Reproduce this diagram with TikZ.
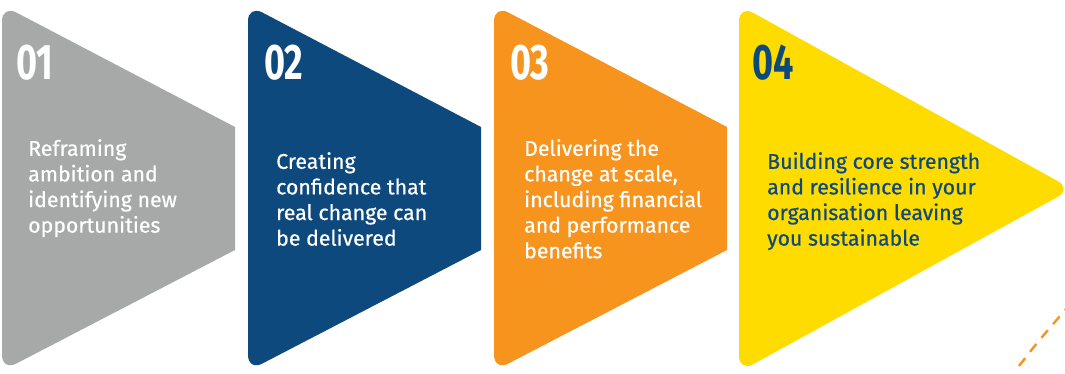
\documentclass[tikz,border=0pt]{standalone}
\usepackage{fontspec}
\setmainfont{Fira Sans}
\newfontfamily\bodyfont{Fira Sans}[FakeBold=0.6]
\usetikzlibrary{positioning}
\definecolor{cgray}{HTML}{A7A9A8}
\definecolor{cnavy}{HTML}{0D497D}
\definecolor{corange}{HTML}{F7941E}
\definecolor{cyellow}{HTML}{FFDC00}
\tikzset{
  numlabel/.style={anchor=north west, inner sep=0pt, font=\fontsize{50}{50}\selectfont\bfseries, xscale=0.72},
  bodytext/.style={anchor=north west, inner sep=0pt, align=left, font=\bodyfont\fontsize{21.3}{25.6}\selectfont},
}
\begin{document}
\begin{tikzpicture}[x=1pt,y=-1pt]
\useasboundingbox (0,0) rectangle (1065,374);
% shapes
\foreach \xx/\col in {2/cgray,248/cnavy,494/corange}{
  \fill[\col] (\xx,188) [rounded corners=16] -- (\xx,5) [sharp corners] -- ({\xx+233},127) -- ({\xx+233},250) [rounded corners=16] -- (\xx,371) -- cycle;
}
\fill[cyellow, rounded corners=16] (739,5) -- (1072,189) -- (739,372) -- cycle;
% dashed arc
\draw[corange, line width=2.4pt, dash pattern=on 10pt off 8pt] (1019,366) .. controls (1036,344) .. (1066,309);
% numbers
\node[numlabel, text=white] (n1) at (16,45) {01};
\node[numlabel, text=white] (n2) at (264,45) {02};
\node[numlabel, text=white] (n3) at (510,45) {03};
\node[numlabel, text=cnavy] (n4) at (752,45) {04};
% texts
\node[bodytext, text=white] (t1) at (28,139) {Reframing\\ambition and\\identifying new\\opportunities};
\node[bodytext, text=white] (t2) at (276,152) {Creating\\confidence that\\real change can\\be delivered};
\node[bodytext, text=white] (t3) at (524,139) {Delivering the\\change at scale,\\including financial\\and performance\\benefits};
\node[bodytext, text=cnavy] (t4) at (767,152) {Building core strength\\and resilience in your\\organisation leaving\\you sustainable};
\end{tikzpicture}
\end{document}
